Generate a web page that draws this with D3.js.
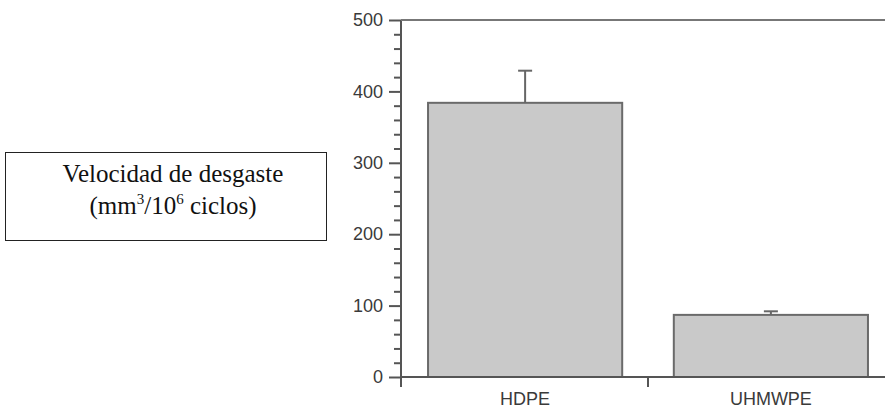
<!DOCTYPE html>
<html>
<head>
<meta charset="utf-8">
<script src="https://cdn.jsdelivr.net/npm/d3@7"></script>
<style>
    body { margin: 0; background: #fff; }
    .tick text { font-family: Arial, "Liberation Sans", sans-serif; fill: #3a3a3a; }
</style>
</head>
<body>
<div id="chart"></div>
<script>

//Chart data
var categories = ["HDPE", "UHMWPE"];
var wearRate = [384, 87];
var wearError = [45, 5];
var yTicks = [0, 100, 200, 300, 400, 500];
var labelLine1 = "Velocidad de desgaste";


//SVG Size
var width = 885,
    height = 410;


var svg = d3.select("#chart")
    .append("svg")
    .attr("width", width)
    .attr("height", height);


//Scales
var yScale = d3.scaleLinear()
    .domain([0, 500])
    .range([377, 20]);

var xScale = d3.scaleBand()
    .domain(categories)
    .range([401, 895])
    .paddingInner(0.21)
    .paddingOuter(0.11);

var axisColor = "#555";


//Bars
svg.selectAll("rect.bar")
    .data(categories)
    .enter()
    .append("rect")
    .attr("class", "bar")
    .attr("x", function(d) { return xScale(d); })
    .attr("y", function(d, i) { return yScale(wearRate[i]); })
    .attr("width", xScale.bandwidth())
    .attr("height", function(d, i) { return yScale(0) - yScale(wearRate[i]); })
    .attr("fill", "#c9c9c9")
    .attr("stroke", "#6a6a6a")
    .attr("stroke-width", 2);


//Error bars (upper only)
var errG = svg.append("g")
    .attr("stroke", "#666")
    .attr("stroke-width", 2);

categories.forEach(function(d, i) {
    var cx = xScale(d) + xScale.bandwidth() / 2;
    var top = yScale(wearRate[i] + wearError[i]);
    errG.append("line")
        .attr("x1", cx).attr("x2", cx)
        .attr("y1", yScale(wearRate[i])).attr("y2", top);
    errG.append("line")
        .attr("x1", cx - 7).attr("x2", cx + 7)
        .attr("y1", top).attr("y2", top);
});


//Y axis - major ticks
var yAxis = d3.axisLeft(yScale)
    .tickValues(yTicks)
    .tickSize(12)
    .tickPadding(6)
    .tickFormat(d3.format("d"));

var gy = svg.append("g")
    .attr("transform", "translate(401,0)")
    .call(yAxis);
gy.select(".domain").remove();
gy.selectAll(".tick line").attr("stroke", axisColor).attr("stroke-width", 2);
gy.selectAll(".tick text").style("font-size", "18px");

//Y axis - minor ticks
var minor = d3.range(0, 501, 20).filter(function(v) { return v % 100 !== 0; });
var gyMinor = svg.append("g")
    .attr("transform", "translate(401,0)")
    .call(d3.axisLeft(yScale).tickValues(minor).tickSize(7).tickFormat(""));
gyMinor.select(".domain").remove();
gyMinor.selectAll(".tick line").attr("stroke", axisColor).attr("stroke-width", 2);

//Y axis line
svg.append("line")
    .attr("x1", 401).attr("x2", 401)
    .attr("y1", yScale(500)).attr("y2", yScale(0) + 10)
    .attr("stroke", axisColor)
    .attr("stroke-width", 2);


//Top frame line
svg.append("line")
    .attr("x1", 401).attr("x2", width)
    .attr("y1", yScale(500)).attr("y2", yScale(500))
    .attr("stroke", "#777")
    .attr("stroke-width", 2);


//X axis
var xAxis = d3.axisBottom(xScale)
    .tickSize(0)
    .tickPadding(15);

var gx = svg.append("g")
    .attr("transform", "translate(0," + yScale(0) + ")")
    .call(xAxis);
gx.select(".domain").remove();
gx.selectAll(".tick text").style("font-size", "18px");

svg.append("line")
    .attr("x1", 401).attr("x2", width)
    .attr("y1", yScale(0)).attr("y2", yScale(0))
    .attr("stroke", axisColor)
    .attr("stroke-width", 2);

//Divider tick between the categories
var midX = (xScale(categories[0]) + xScale.bandwidth() + xScale(categories[1])) / 2;
svg.append("line")
    .attr("x1", midX).attr("x2", midX)
    .attr("y1", yScale(0)).attr("y2", yScale(0) + 10)
    .attr("stroke", axisColor)
    .attr("stroke-width", 2);


//Label box on the left
svg.append("rect")
    .attr("x", 5.5)
    .attr("y", 152.5)
    .attr("width", 321)
    .attr("height", 88)
    .attr("fill", "white")
    .attr("stroke", "#222")
    .attr("stroke-width", 1);

var label = svg.append("text")
    .attr("text-anchor", "middle")
    .style("font-family", "'Liberation Serif', 'Times New Roman', serif")
    .style("font-size", "25px")
    .attr("fill", "#111");

label.append("tspan")
    .attr("x", 173)
    .attr("y", 182)
    .text(labelLine1);

var line2 = label.append("tspan")
    .attr("x", 173)
    .attr("y", 214);
line2.append("tspan").text("(mm");
line2.append("tspan").attr("dy", -10).style("font-size", "15px").text("3");
line2.append("tspan").attr("dy", 10).text("/10");
line2.append("tspan").attr("dy", -10).style("font-size", "15px").text("6");
line2.append("tspan").attr("dy", 10).text(" ciclos)");

</script>
</body>
</html>
